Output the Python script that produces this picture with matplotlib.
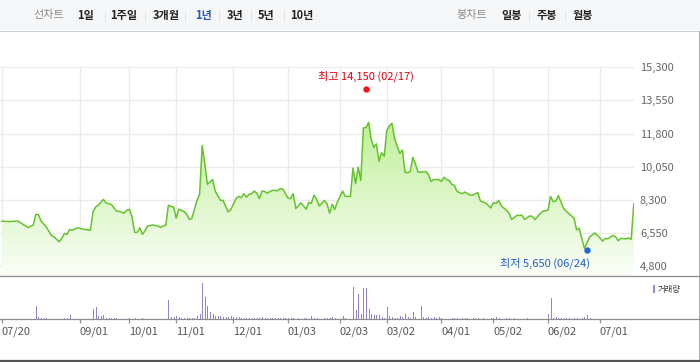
import numpy as np
import matplotlib
matplotlib.use("Agg")
import matplotlib.pyplot as plt
from matplotlib.patches import Rectangle, Polygon

plt.rcParams['font.family'] = ['Noto Sans CJK KR', 'DejaVu Sans']

# trading-day index -> closing price
price_day = [0, 3, 6, 7, 10, 12, 13, 14, 15, 17, 19, 20, 22, 23, 24, 25, 26, 27, 29, 32,
             34, 35, 36, 37, 39, 40, 42, 44, 45, 47, 48, 49, 50, 51, 52, 53, 54, 55, 56, 58,
             60, 61, 62, 63, 64, 65, 66, 67, 68, 70, 71, 72, 73, 75, 76, 77, 78, 79, 81, 82,
             84, 85, 87, 88, 90, 91, 92, 93, 94, 95, 96, 97, 98, 99, 100, 101, 102, 104, 106, 107,
             108, 110, 111, 112, 113, 115, 117, 118, 119, 120, 121, 122, 124, 125, 126, 127, 128, 129, 131, 132,
             134, 135, 136, 137, 138, 139, 140, 141, 142, 143, 144, 145, 146, 147, 148, 149, 150, 151, 153, 154,
             155, 156, 157, 158, 159, 160, 161, 163, 164, 165, 166, 168, 169, 170, 171, 172, 173, 174, 175, 177,
             178, 180, 181, 183, 184, 186, 188, 189, 190, 191, 192, 194, 195, 196, 198, 200, 201, 203, 204, 205,
             207, 208, 210, 211, 212, 213, 214, 216, 218, 220, 221, 222, 223, 224, 226, 228, 229, 231, 232, 233,
             235, 236, 237, 238, 240, 241, 242, 243]
price_close = [7180, 7160, 7190, 7110, 6850, 6970, 7530, 7530, 7190, 6880, 6430, 6350, 6090, 6270, 6530, 6480, 6740, 6710, 6830, 6740,
               6710, 7670, 7930, 8020, 8330, 8140, 8070, 7720, 7700, 7610, 7760, 7810, 7400, 6590, 6590, 6830, 6480, 6670, 6930, 6980,
               6930, 6850, 6930, 6970, 8020, 7960, 7930, 7340, 7810, 7690, 7550, 7280, 7320, 8280, 8600, 11170, 10210, 9120, 9380, 8770,
               8280, 8280, 7670, 7790, 8370, 8490, 8420, 8630, 8450, 8600, 8630, 8770, 8660, 8370, 8770, 8750, 8660, 8810, 8790, 8900,
               8880, 8400, 8370, 8630, 7850, 8150, 7810, 8180, 8120, 8560, 8340, 7980, 8270, 8110, 7600, 8070, 7800, 8190, 8770, 8490,
               8490, 9980, 9160, 10030, 9330, 12100, 12130, 12390, 11520, 11080, 11260, 10340, 10790, 10610, 11960, 12220, 12340, 11520, 10760, 10940,
               9770, 9740, 9800, 10550, 10210, 9770, 9770, 9800, 9650, 9280, 9380, 9380, 9280, 9500, 9380, 9330, 9120, 9070, 8750, 8630,
               8720, 8560, 8560, 8690, 8240, 8140, 7880, 8160, 8120, 8280, 7990, 7760, 7620, 7270, 7480, 7490, 7270, 7460, 7430, 7270,
               7580, 7710, 7760, 8490, 8210, 8240, 8530, 7850, 7580, 7350, 6720, 6800, 6270, 5750, 6350, 6560, 6440, 6130, 6270, 6250,
               6430, 6350, 6150, 6270, 6250, 6300, 6220, 8090]

# trading-day index -> volume (relative units)
volume_day = [13, 14, 15, 16, 17, 24, 25, 26, 35, 36, 37, 38, 39, 40, 41, 42, 43, 44, 49, 51,
              54, 64, 65, 66, 67, 68, 69, 70, 71, 72, 73, 74, 75, 76, 77, 78, 79, 80, 81, 82,
              83, 84, 85, 86, 87, 88, 89, 90, 91, 92, 93, 94, 95, 96, 97, 98, 99, 100, 101, 102,
              103, 104, 105, 106, 107, 108, 109, 110, 111, 112, 114, 116, 117, 119, 120, 121, 124, 125, 126, 127,
              128, 131, 132, 135, 136, 137, 138, 139, 140, 141, 142, 143, 144, 145, 146, 147, 148, 149, 150, 151,
              152, 153, 154, 155, 156, 157, 158, 159, 161, 162, 163, 164, 165, 166, 167, 168, 169, 170, 173, 174,
              175, 177, 178, 179, 181, 182, 183, 185, 188, 189, 190, 191, 194, 195, 197, 202, 210, 211, 212, 213,
              214, 215, 216, 217, 218, 220, 221, 223, 224, 225, 226, 243]
volume = [36, 6, 3, 3, 3, 4, 4, 12, 28, 34, 9, 9, 12, 4, 4, 4, 4, 4, 4, 3,
          3, 53, 7, 7, 9, 6, 4, 4, 4, 4, 4, 4, 9, 15, 100, 62, 35, 20, 14, 9,
          9, 9, 5, 5, 7, 9, 6, 6, 6, 4, 4, 4, 4, 4, 4, 4, 4, 6, 4, 4,
          4, 4, 4, 4, 4, 4, 4, 4, 4, 4, 4, 4, 4, 9, 4, 4, 4, 4, 4, 6,
          4, 9, 4, 87, 25, 69, 15, 86, 86, 28, 15, 12, 12, 12, 6, 4, 34, 9, 6, 4,
          4, 9, 6, 15, 6, 4, 20, 6, 36, 6, 4, 6, 4, 6, 4, 6, 4, 2, 4, 4,
          4, 4, 4, 4, 4, 4, 4, 4, 4, 4, 6, 4, 4, 4, 4, 4, 15, 57, 4, 6,
          4, 4, 4, 4, 4, 4, 4, 4, 6, 12, 4, 34]

tick_day = [0, 30, 49, 67, 89, 110, 130, 148, 169, 189, 210, 230]
tick_label = ["07/20", "09/01", "10/01", "11/01", "12/01", "01/03", "02/03",
              "03/02", "04/01", "05/02", "06/02", "07/01"]
price_ticks = [4800, 6550, 8300, 10050, 11800, 13550, 15300]

high_day, high_value, high_date = 140, 14150, "02/17"
low_day, low_value, low_date = 225, 5650, "06/24"

period_labels = ["1일", "1주일", "3개월", "1년", "3년", "5년", "10년"]
period_x = [86, 123.5, 166, 203.5, 235, 266.5, 301.5]
candle_labels = ["일봉", "주봉", "월봉"]
candle_x = [511.7, 546.7, 583.3]

W, H = 700, 362
DAY_PX = 2.6
LEFT_PX = 2


def rect(x0, y0, x1, y1):
    return [x0 / W, 1 - y1 / H, (x1 - x0) / W, (y1 - y0) / H]


fig = plt.figure(figsize=(W / 100, H / 100), dpi=100)
fig.patch.set_facecolor("white")

xlim = (-LEFT_PX / DAY_PX, (634 - LEFT_PX) / DAY_PX)

# price panel
ax = fig.add_axes(rect(0, 67.3, 634, 276))
ylo = 4800 - (276 - 266.3) * 10500 / 199
ax.set_facecolor("none")
for s in ax.spines.values():
    s.set_visible(False)

grad = np.linspace(0, 1, 256).reshape(-1, 1, 1)
top_c = np.array([192, 239, 154]) / 255
bot_c = np.array([251, 254, 248]) / 255
img = top_c + (bot_c - top_c) * grad
im = ax.imshow(img, extent=(xlim[0], xlim[1], ylo, max(price_close)),
               aspect="auto", origin="upper", zorder=1, interpolation="bilinear")
verts = list(zip(price_day, price_close)) + [(price_day[-1], ylo), (price_day[0], ylo)]
clip = Polygon(verts, closed=True, transform=ax.transData, fc="none", ec="none")
ax.add_patch(clip)
im.set_clip_path(clip)
ax.plot(price_day, price_close, color="#62c42a", lw=1.1, zorder=3)

ax.set_xlim(*xlim)
ax.set_ylim(ylo, 15300)
ax.set_xticks(tick_day)
ax.set_yticks(price_ticks)
ax.set_yticklabels([f"{v:,}" for v in price_ticks])
ax.set_xticklabels([])
ax.grid(True, color="#ebebeb", lw=1, zorder=0)
ax.set_axisbelow(True)
ax.yaxis.tick_right()
ax.tick_params(axis="both", length=0)
ax.tick_params(axis="y", pad=4.3, labelsize=8, labelcolor="#666666")

ax.plot(high_day, high_value, "o", color="#ff1010", ms=4.6, mew=0, zorder=4, clip_on=False)
ax.annotate(f"최고 {high_value:,} ({high_date})", (high_day, high_value), xytext=(0, 9.5),
            textcoords="offset points", ha="center", va="center", fontsize=8,
            color="#e8000b", annotation_clip=False)
ax.plot(low_day, low_value, "o", color="#1f66d6", ms=4.6, mew=0, zorder=4, clip_on=False)
ax.annotate(f"최저 {low_value:,} ({low_date})", (low_day, low_value), xytext=(2.3, -9.5),
            textcoords="offset points", ha="right", va="center", fontsize=8,
            color="#1f5fcc", annotation_clip=False)

# volume panel
axv = fig.add_axes(rect(0, 277, 634, 319.3))
axv.set_facecolor("none")
for s in axv.spines.values():
    s.set_visible(False)
axv.vlines(volume_day, 0, volume, color="#9581c9", lw=0.72, antialiased=False)
axv.set_xlim(*xlim)
axv.set_ylim(0, 115.6)
axv.set_yticks([])
axv.set_xticks(tick_day)
axv.set_xticklabels(tick_label, ha="left")
axv.tick_params(axis="x", direction="out", length=3, width=1, color="#999999",
                pad=2.5, labelsize=8, labelcolor="#555555")

# frame, toolbar, legend
ov = fig.add_axes([0, 0, 1, 1], zorder=5)
ov.set_xlim(0, W)
ov.set_ylim(H, 0)
ov.axis("off")
ov.add_patch(Rectangle((0, 0), W, 30, fc="#f5f6f8", ec="none"))
ov.plot([0, W], [30.5, 30.5], color="#cdd0d4", lw=0.8)
ov.plot([698.5, 698.5], [30.5, H], color="#b5b5b5", lw=0.8)
ov.plot([0, 698.5], [276.3, 276.3], color="#8c8c8c", lw=0.9)
ov.plot([0, 698.5], [319.4, 319.4], color="#8c8c8c", lw=0.9)
ov.plot([0, W], [360.6, 360.6], color="#555555", lw=1.6)

ov.text(49, 15, "선차트", ha="center", va="center", fontsize=8, color="#8a8a8a")
for i, (lab, x) in enumerate(zip(period_labels, period_x)):
    col = "#2a54b8" if lab == "1년" else "#222222"
    ov.text(x, 15, lab, ha="center", va="center", fontsize=8, fontweight="bold", color=col)
    if i < len(period_labels) - 1:
        sx = (x + period_x[i + 1]) / 2
        ov.plot([sx, sx], [10.5, 20.5], color="#e0e0e0", lw=0.6)
ov.text(472, 15, "봉차트", ha="center", va="center", fontsize=8, color="#8a8a8a")
for i, (lab, x) in enumerate(zip(candle_labels, candle_x)):
    ov.text(x, 15, lab, ha="center", va="center", fontsize=8, fontweight="bold", color="#222222")
    if i < len(candle_labels) - 1:
        sx = (x + candle_x[i + 1]) / 2
        ov.plot([sx, sx], [10.5, 20.5], color="#e0e0e0", lw=0.6)

ov.add_patch(Rectangle((652.7, 285), 2.6, 8.3, fc="#9a86cc", ec="none"))
ov.text(658, 289.3, "거래량", ha="left", va="center", fontsize=6, color="#333333")

fig.savefig("out.png", dpi=100)
